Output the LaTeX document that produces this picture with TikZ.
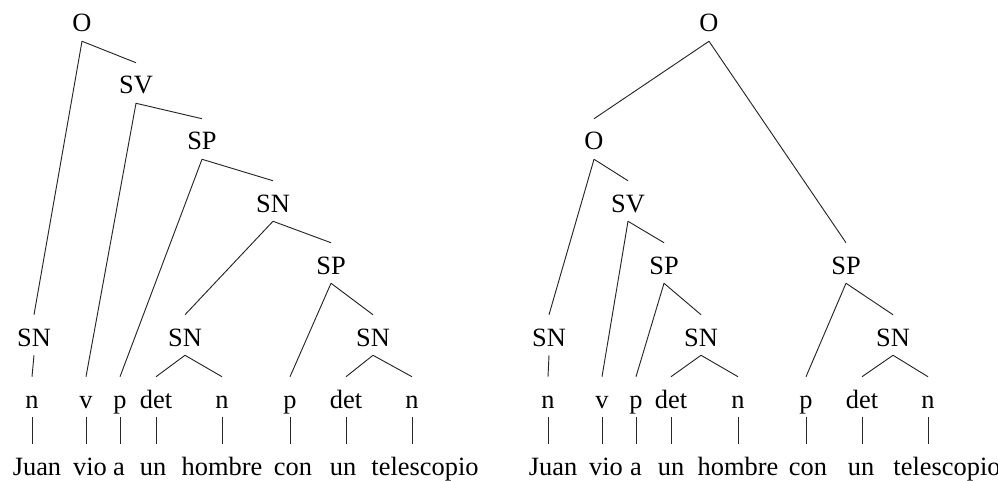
\documentclass[tikz,border=0pt]{standalone}
\usepackage{fontspec}
\setmainfont{Liberation Serif}
\begin{document}
\begin{tikzpicture}[x=0.75pt,y=-0.75pt,
  lab/.style={anchor=base, inner sep=0pt, text height=16.5pt, text depth=0pt,
              minimum height=30pt, font=\fontsize{19.8}{24}\selectfont},
  edge/.style={line width=0.7pt, black!85}]
\useasboundingbox (0,0) rectangle (998,481);
% ---------------- left tree ----------------
\node[lab] (L0)   at (82,32)   {O};
\node[lab] (Lsv)  at (136,94)  {SV};
\node[lab] (Lsp1) at (202,150) {SP};
\node[lab] (Lsn1) at (273,212) {SN};
\node[lab] (Lsp2) at (331,274) {SP};
\node[lab] (Lsnj) at (34,346)  {SN};
\node[lab] (Lsna) at (185,346) {SN};
\node[lab] (Lsnb) at (373,346) {SN};
\node[lab] (Ln1)   at (32,408)  {n};
\node[lab] (Lv)    at (86,408)  {v};
\node[lab] (Lp1)   at (120,408) {p};
\node[lab] (Ldet1) at (156,408) {det};
\node[lab] (Ln2)   at (222,408) {n};
\node[lab] (Lp2)   at (290,408) {p};
\node[lab] (Ldet2) at (346,408) {det};
\node[lab] (Ln3)   at (412,408) {n};
\node[lab] (Lw1) at (37,475)  {Juan};
\node[lab] (Lw2) at (90,475)  {vio};
\node[lab] (Lw3) at (119,475) {a};
\node[lab] (Lw4) at (153,475) {un};
\node[lab] (Lw5) at (222,475) {hombre};
\node[lab] (Lw6) at (293,475) {con};
\node[lab] (Lw7) at (343,475) {un};
\node[lab] (Lw8) at (425,475) {telescopio};
\foreach \a/\b in {L0/Lsnj, L0/Lsv, Lsv/Lv, Lsv/Lsp1, Lsp1/Lp1, Lsp1/Lsn1,
                   Lsn1/Lsna, Lsn1/Lsp2, Lsp2/Lp2, Lsp2/Lsnb, Lsna/Ldet1, Lsna/Ln2,
                   Lsnb/Ldet2, Lsnb/Ln3, Lsnj/Ln1}
  \draw[edge] (\a.south) -- (\b.north);
\foreach \a/\b in {Ln1/Lw1, Lv/Lw2, Lp1/Lw3, Ldet1/Lw4, Ln2/Lw5, Lp2/Lw6, Ldet2/Lw7, Ln3/Lw8}
  \draw[edge] (\a.south) -- (\a.south |- \b.north);
% ---------------- right tree ----------------
\node[lab] (R0)   at (709,32)  {O};
\node[lab] (R1)   at (594,150) {O};
\node[lab] (Rsv)  at (628,212) {SV};
\node[lab] (Rsp1) at (664,274) {SP};
\node[lab] (Rsp2) at (846,274) {SP};
\node[lab] (Rsnj) at (549,346) {SN};
\node[lab] (Rsn2) at (701,346) {SN};
\node[lab] (Rsn3) at (893,346) {SN};
\node[lab] (Rn1)   at (548,408) {n};
\node[lab] (Rv)    at (602,408) {v};
\node[lab] (Rp1)   at (636,408) {p};
\node[lab] (Rdet1) at (671,408) {det};
\node[lab] (Rn2)   at (738,408) {n};
\node[lab] (Rp2)   at (806,408) {p};
\node[lab] (Rdet2) at (862,408) {det};
\node[lab] (Rn3)   at (928,408) {n};
\node[lab] (Rw1) at (553,475) {Juan};
\node[lab] (Rw2) at (606,475) {vio};
\node[lab] (Rw3) at (636,475) {a};
\node[lab] (Rw4) at (671,475) {un};
\node[lab] (Rw5) at (738,475) {hombre};
\node[lab] (Rw6) at (808,475) {con};
\node[lab] (Rw7) at (861,475) {un};
\node[lab] (Rw8) at (947,475) {telescopio};
\foreach \a/\b in {R0/R1, R0/Rsp2, R1/Rsnj, R1/Rsv, Rsv/Rv, Rsv/Rsp1, Rsp1/Rp1,
                   Rsp1/Rsn2, Rsn2/Rdet1, Rsn2/Rn2, Rsp2/Rp2, Rsp2/Rsn3,
                   Rsn3/Rdet2, Rsn3/Rn3, Rsnj/Rn1}
  \draw[edge] (\a.south) -- (\b.north);
\foreach \a/\b in {Rn1/Rw1, Rv/Rw2, Rp1/Rw3, Rdet1/Rw4, Rn2/Rw5, Rp2/Rw6, Rdet2/Rw7, Rn3/Rw8}
  \draw[edge] (\a.south) -- (\a.south |- \b.north);
\end{tikzpicture}
\end{document}
